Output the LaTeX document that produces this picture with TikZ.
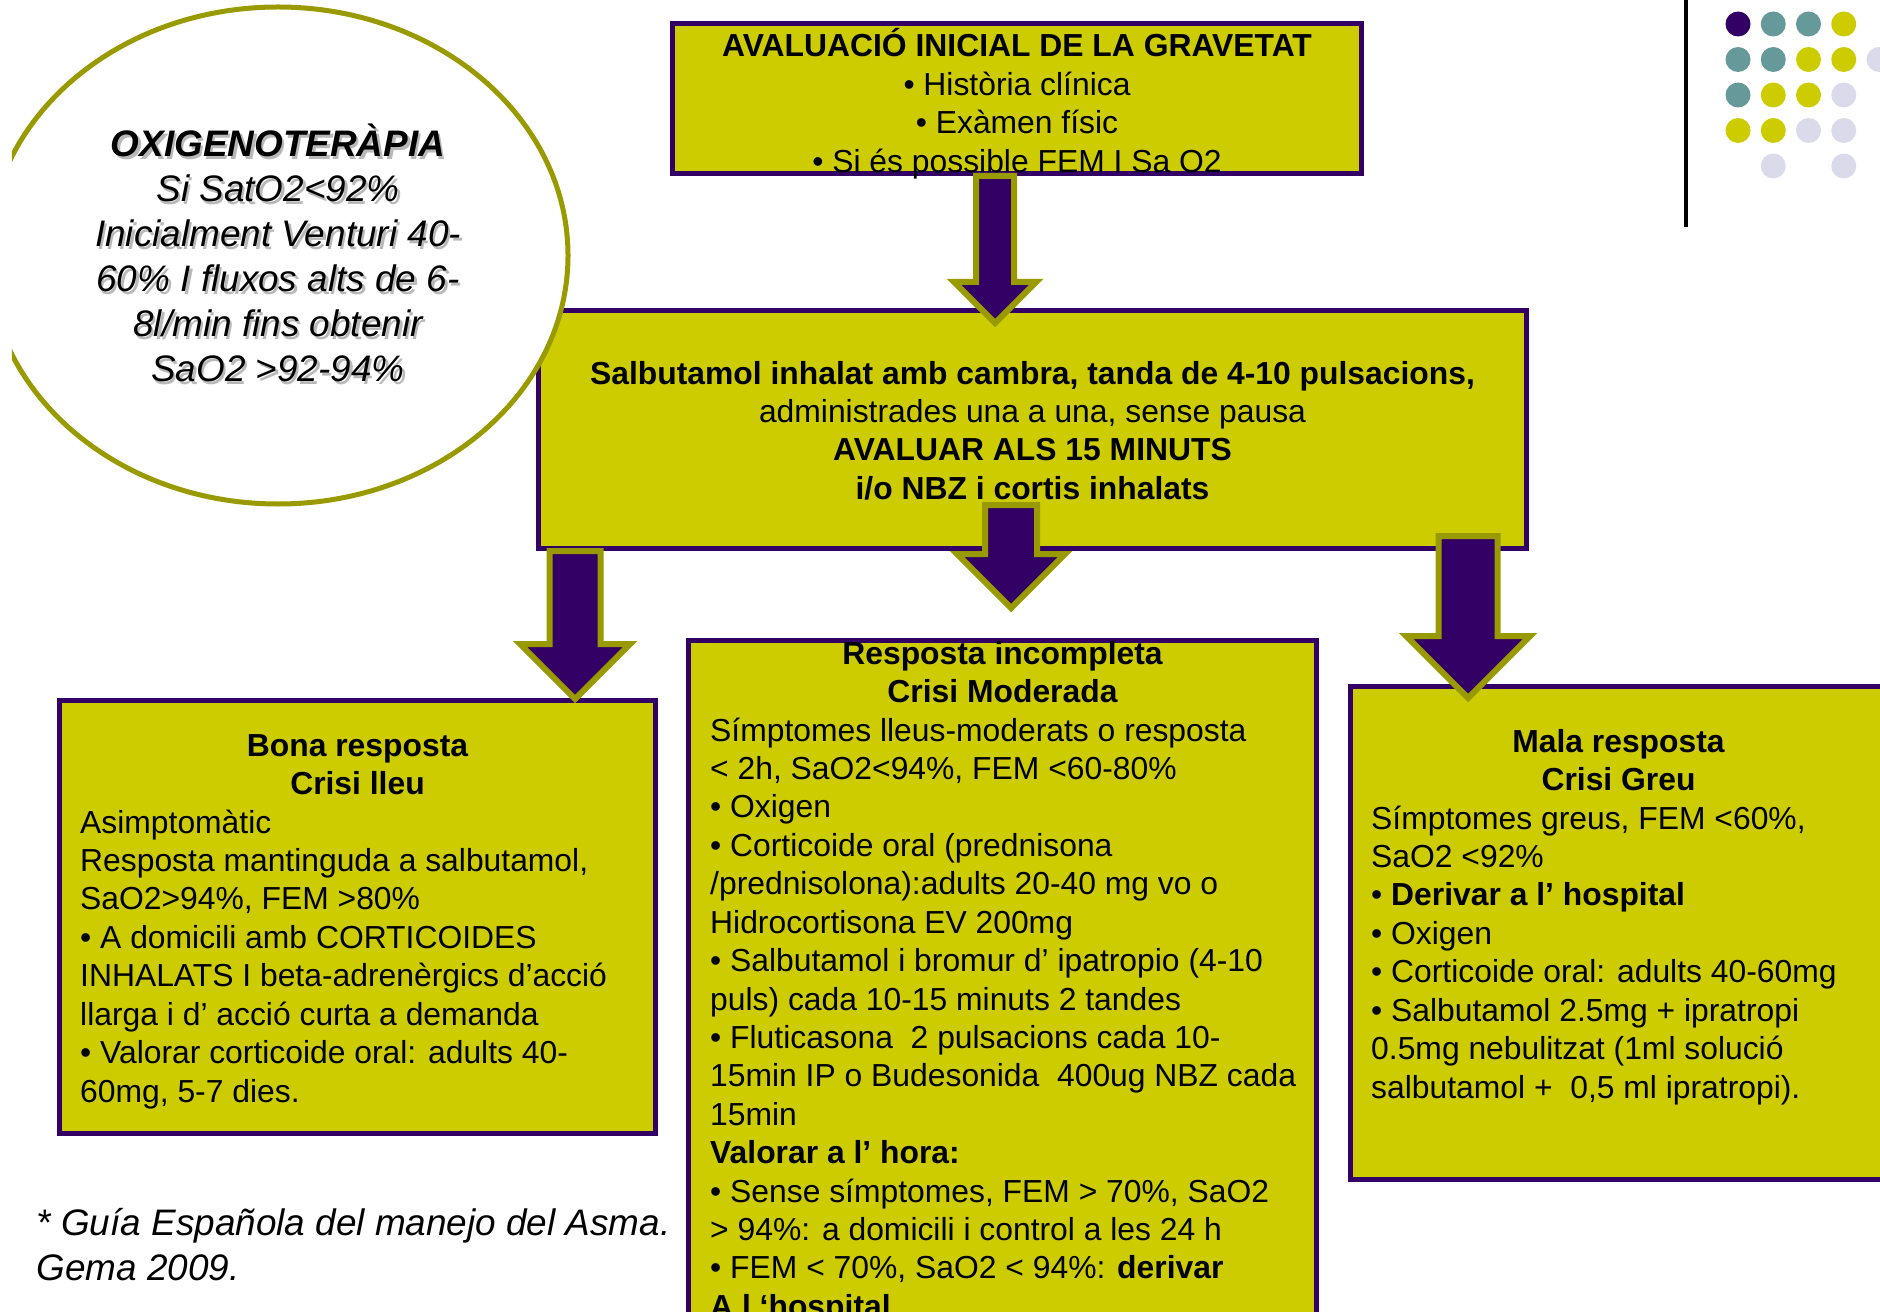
\documentclass[tikz,border=0pt]{standalone}
\usepackage{fontspec}
\setmainfont{Liberation Sans}
\usetikzlibrary{positioning,calc,shapes.geometric}

\definecolor{boxpurple}{RGB}{51,0,102}
\definecolor{boxyellow}{RGB}{204,204,0}
\definecolor{arrowolive}{RGB}{153,153,0}
\definecolor{dotteal}{RGB}{102,153,153}
\definecolor{dotlilac}{RGB}{218,218,235}

\newcommand{\panelfont}{\fontsize{9.06}{10.93}\selectfont}
\newcommand{\ovalfont}{\fontsize{10.5}{12.8}\selectfont}
\newcommand{\oxigentext}{\strut\textbf{OXIGENOTERÀPIA}\\ Si SatO2<92\%\\ Inicialment Venturi 40-\\
  60\% I fluxos alts de 6-\\ 8l/min fins obtenir\\ SaO2 >92-94\%}

% block arrow: start point, tip point, shaft half width, head half width
\newcommand{\blockarrow}[4]{%
  \draw[arrowbody] let \p1=(#1), \p2=(#2) in
    (\x2-#3,\y1) -- (\x2-#3,\y2+#4) -- (\x2-#4,\y2+#4) -- (\x2,\y2)
    -- (\x2+#4,\y2+#4) -- (\x2+#3,\y2+#4) -- (\x2+#3,\y1) -- cycle;}

\begin{document}
\begin{tikzpicture}
    \tikzset{
      panel/.style={rectangle,draw=boxpurple,fill=boxyellow,line width=0.05cm,inner sep=0pt,anchor=north west},
      headtext/.style={font=\panelfont\bfseries,align=center,inner sep=0pt},
      bodytext/.style={font=\panelfont,align=left,inner sep=0pt},
      arrowbody/.style={fill=boxpurple,draw=arrowolive,line width=0.06cm,line join=miter},
      oval/.style={ellipse,draw=arrowolive,fill=white,line width=0.05cm,inner sep=0pt},
      ovaltext/.style={font=\ovalfont\itshape,align=center,inner sep=0pt},
      notetext/.style={font=\ovalfont\itshape,align=left,inner sep=0pt,anchor=north west}
    }
    \useasboundingbox (0,0) rectangle (18.8,-13.11);
    \clip (0,0) rectangle (18.8,-13.11);

    % boxes
    \node[panel,minimum width=6.89cm,minimum height=1.50cm](inicial) at (6.70,-0.21){};
    \node[panel,minimum width=9.88cm,minimum height=2.38cm](salb) at (5.36,-3.08){};
    \node[panel,minimum width=5.96cm,minimum height=4.33cm](bona) at (0.57,-6.98){};
    \node[panel,minimum width=6.28cm,minimum height=7.00cm](moder) at (6.86,-6.38){};
    \node[panel,minimum width=5.36cm,minimum height=4.93cm](greu) at (13.48,-6.84){};

    % texts
    \node[headtext,below=0.07cm of inicial.north](inicialtext){\strut AVALUACIÓ INICIAL DE LA GRAVETAT\\
      \mdseries • Història clínica\\ \mdseries • Exàmen físic\\ \mdseries • Si és possible FEM I Sa O2};
    \node[headtext,below=0.485cm of salb.north](salbtext){\strut Salbutamol inhalat amb cambra, tanda de 4-10 pulsacions,\\
      \mdseries administrades una a una, sense pausa\\ AVALUAR ALS 15 MINUTS\\ i/o NBZ i cortis inhalats};
    \node[headtext,below=0.305cm of bona.north](bonahead){\strut Bona resposta\\ Crisi lleu};
    \node[bodytext,below right=1.075cm and 0.225cm of bona.north west](bonabody){\strut Asimptomàtic\\
      Resposta mantinguda a salbutamol,\\ SaO2>94\%, FEM >80\%\\ • A domicili amb CORTICOIDES\\
      INHALATS I beta-adrenèrgics d’acció\\ llarga i d’ acció curta a demanda\\
      • Valorar corticoide oral: adults 40-\\ 60mg, 5-7 dies.};
    \node[headtext,below=-0.015cm of moder.north](moderhead){\strut Resposta incompleta\\ Crisi Moderada};
    \node[bodytext,below right=0.755cm and 0.235cm of moder.north west](moderbody){\strut Símptomes lleus-moderats o resposta\\
      < 2h, SaO2<94\%, FEM <60-80\%\\ • Oxigen\\ • Corticoide oral (prednisona\\
      /prednisolona):adults 20-40 mg vo o\\ Hidrocortisona EV 200mg\\
      • Salbutamol i bromur d’ ipatropio (4-10\\ puls) cada 10-15 minuts 2 tandes\\
      • Fluticasona\ \ 2 pulsacions cada 10-\\ 15min IP o Budesonida\ \ 400ug NBZ cada\\ 15min\\
      \textbf{Valorar a l’ hora:}\\ • Sense símptomes, FEM > 70\%, SaO2\\
      > 94\%: a domicili i control a les 24 h\\ • FEM < 70\%, SaO2 < 94\%: \textbf{derivar}\\
      \textbf{A l ‘hospital}};
    \node[headtext,below=0.405cm of greu.north](greuhead){\strut Mala resposta\\ Crisi Greu};
    \node[bodytext,below right=1.175cm and 0.225cm of greu.north west](greubody){\strut Símptomes greus, FEM <60\%,\\
      SaO2 <92\%\\ • \textbf{Derivar a l’ hospital}\\ • Oxigen\\ • Corticoide oral: adults 40-60mg\\
      • Salbutamol 2.5mg + ipratropi\\ 0.5mg nebulitzat (1ml solució\\ salbutamol +\ \ 0,5 ml ipratropi).};

    % arrows
    \coordinate (a1tip) at (9.95,-3.23);
    \coordinate (a2top) at (10.11,-5.05);
    \coordinate (a2tip) at (10.11,-6.08);
    \coordinate (a3tip) at (5.75,-6.99);
    \coordinate (a4top) at (14.68,-5.36);
    \coordinate (a4tip) at (14.68,-6.98);
    \blockarrow{inicial.south}{a1tip}{0.19cm}{0.41cm}
    \blockarrow{a2top}{a2tip}{0.26cm}{0.54cm}
    \blockarrow{salb.south}{a3tip}{0.255cm}{0.55cm}
    \blockarrow{a4top}{a4tip}{0.295cm}{0.62cm}

    % oxygen oval
    \begin{scope}
      \clip (0.12,0) rectangle (18.8,-13.11);
      \node[oval,minimum width=5.8cm,minimum height=4.97cm](oxigen) at (2.78,-2.555){};
    \end{scope}
    \node[ovaltext,text=gray!55,below=1.19cm of oxigen.north,xshift=0.025cm,yshift=-0.025cm](oxishadow){\oxigentext};
    \node[ovaltext,below=1.19cm of oxigen.north](oxitext){\oxigentext};

    \node[notetext](gema) at (0.36,-12.035){\strut * Guía Española del manejo del Asma.\\ Gema 2009.};

    % corner decoration
    \draw[line width=0.035cm] (16.86,0) -- (16.86,-2.27);
    \foreach \col/\row/\clr in {0/0/boxpurple,1/0/dotteal,2/0/dotteal,3/0/boxyellow,
      0/1/dotteal,1/1/dotteal,2/1/boxyellow,3/1/boxyellow,4/1/dotlilac,
      0/2/dotteal,1/2/boxyellow,2/2/boxyellow,3/2/dotlilac,
      0/3/boxyellow,1/3/boxyellow,2/3/dotlilac,3/3/dotlilac,
      1/4/dotlilac,3/4/dotlilac}
      \fill[\clr] (17.38+0.3525*\col,-0.24-0.355*\row) circle (0.125);

  \end{tikzpicture}
\end{document}
